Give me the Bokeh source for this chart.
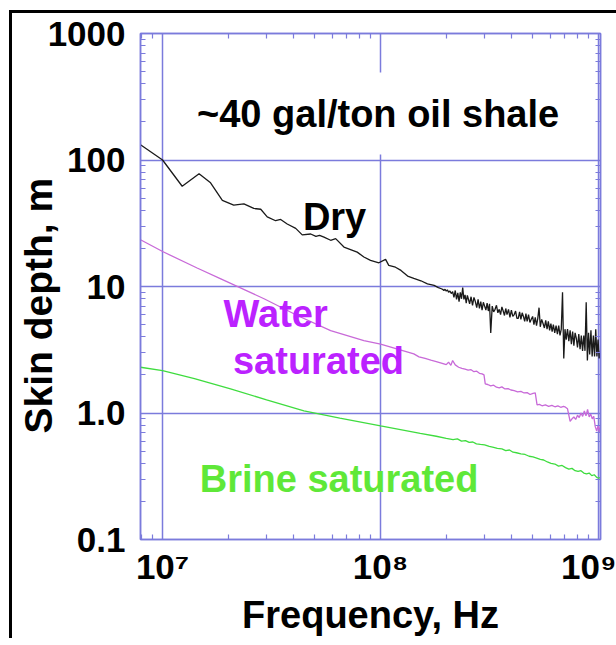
import numpy as np
from bokeh.plotting import figure
from bokeh.models import LogAxis, FixedTicker, Label, Range1d, Title
from bokeh.embed import file_html
from bokeh.resources import INLINE

try:
    from bokeh.models import GlobalInlineStyleSheet
except ImportError:
    GlobalInlineStyleSheet = None

# ---------------- data (frequency in MHz, skin depth in m) ----------------
DRY_F_MHZ = [7.92, 10, 12.3, 14.7, 16.6, 18.8, 21.2, 23.6, 26.2, 28.2,
             30.2, 33.0, 34.8, 37.3, 40.8, 43.7, 47.8, 50.5, 52.5, 55.0,
             59.0, 62.2, 67.9, 72.8, 78.1, 83.8, 89.9, 98.2, 105.4, 109,
             117, 124, 133, 142, 153, 164, 176, 184,
             190, 192.5, 195, 197.5, 200, 202.5, 205, 208, 211, 214,
             217, 220, 223, 226, 229, 232, 235, 238, 241, 244,
             247, 250, 253, 256, 260, 264, 268, 272, 276, 280,
             284, 288, 292, 296, 300, 304, 308, 312, 316, 320,
             325, 330, 335, 340, 345, 350, 355, 360, 365, 370,
             375, 380, 386, 392, 398, 404, 410, 416, 422, 428,
             434, 440, 446, 452, 458, 464, 470, 477, 484, 491,
             498, 505, 512, 519, 526, 533, 540, 548, 556, 564,
             572, 580, 588, 596, 604, 612, 620, 629, 638, 647,
             656, 665, 674, 683, 692, 701, 710, 720, 730, 740,
             750, 760, 770, 780, 790, 800, 811, 822, 833, 844,
             855, 866, 877, 888, 899, 910, 922, 934, 946, 958,
             970, 982, 994, 1006, 1020]
DRY_DEPTH_M = [132, 100, 62, 78, 66, 48, 44, 45, 41.4, 40.8,
               35.5, 33.1, 33.9, 31.2, 28.8, 25.6, 26.0, 24.9, 25.4, 24.6,
               23.2, 23.9, 20.5, 19.6, 18.7, 17.1, 16.1, 15.4, 16.4, 14.7,
               14.2, 13.4, 12.1, 11.6, 11.1, 10.5, 10.2, 9.8,
               9.6, 9.5, 9.3, 9.5, 9.2, 9.4, 9.0, 9.2, 8.8, 9.1,
               8.2, 9.3, 7.9, 8.9, 7.6, 9.0, 8.0, 9.8, 7.9, 8.6,
               7.4, 8.5, 7.9, 7.3, 8.3, 7.1, 8.2, 7.6, 6.8, 7.9,
               6.7, 7.6, 6.5, 7.5, 7.0, 6.5, 7.4, 6.4, 7.3, 4.3,
               7.0, 6.3, 6.6, 7.1, 6.2, 6.6, 6.0, 6.9, 6.4, 5.9,
               6.7, 6.0, 6.6, 5.7, 6.5, 5.8, 6.0, 6.4, 5.6, 5.6,
               6.3, 5.5, 6.2, 5.8, 5.3, 6.1, 5.3, 6.0, 5.2, 5.5,
               5.8, 5.0, 5.7, 4.9, 5.6, 6.8, 4.8, 5.5, 5.1, 4.7,
               5.4, 4.6, 5.3, 4.5, 5.1, 4.4, 5.0, 4.3, 4.9, 4.2,
               4.9, 4.1, 4.6, 9.0, 2.7, 4.6, 3.8, 4.6, 3.7, 4.5,
               3.5, 4.4, 3.4, 4.3, 3.9, 3.3, 4.2, 3.2, 4.1, 3.1,
               4.1, 3.1, 7.5, 2.6, 4.3, 2.9, 4.5, 2.8, 4.1, 2.8,
               4.6, 2.8, 3.8, 2.7, 3.1]

WATER_F_MHZ = [7.92, 10, 14.4, 18.5, 29.2, 41.5, 59, 83.8, 100, 142,
               150, 160, 170, 180, 190, 200, 205, 210, 214, 220,
               228, 236, 244, 252, 260, 268, 276, 284, 292, 298,
               302, 310, 320, 330, 340, 350, 360, 372, 384, 396,
               410, 425, 440, 455, 470, 485, 500, 512, 522, 535,
               550, 570, 590, 610, 630, 650, 670, 690, 700, 720,
               740, 755, 770, 785, 800, 815, 830, 845, 860, 875,
               890, 905, 920, 935, 950, 965, 980, 995, 1010, 1020]
WATER_DEPTH_M = [23.4, 18.9, 14.0, 11.5, 8.0, 5.9, 4.48, 3.74, 3.51, 2.93,
                 2.78, 2.70, 2.62, 2.55, 2.48, 2.41, 2.52, 2.38, 2.60, 2.40,
                 2.30, 2.25, 2.22, 2.18, 2.20, 2.12, 2.14, 2.06, 2.04, 2.00,
                 1.70, 1.68, 1.64, 1.66, 1.60, 1.58, 1.61, 1.55, 1.56, 1.52,
                 1.50, 1.47, 1.48, 1.44, 1.45, 1.40, 1.43, 1.44, 1.16, 1.17,
                 1.14, 1.16, 1.13, 1.15, 1.12, 1.14, 1.11, 1.13, 1.12, 1.08,
                 0.86, 0.90, 0.93, 0.89, 0.96, 0.92, 1.00, 0.94, 1.04, 0.95,
                 1.07, 0.93, 0.98, 0.90, 0.94, 0.78, 0.72, 0.80, 0.70, 0.80]

BRINE_F_MHZ = [7.92, 10, 14, 20.5, 30, 44.5, 65, 100, 152, 180,
               200, 215, 225, 235, 245, 255, 265, 275, 287, 300,
               315, 330, 343, 360, 375, 390, 405, 420, 440, 460,
               480, 500, 520, 540, 560, 582, 605, 630, 655, 680,
               705, 730, 755, 780, 805, 830, 855, 880, 905, 930,
               955, 980, 1000, 1020]
BRINE_DEPTH_M = [2.30, 2.16, 1.87, 1.55, 1.27, 1.04, 0.91, 0.79, 0.69, 0.655,
                 0.63, 0.615, 0.625, 0.60, 0.605, 0.585, 0.59, 0.57, 0.565, 0.56,
                 0.545, 0.535, 0.525, 0.52, 0.505, 0.51, 0.49, 0.485, 0.475, 0.47,
                 0.455, 0.45, 0.44, 0.43, 0.425, 0.41, 0.40, 0.395, 0.38, 0.385,
                 0.37, 0.36, 0.365, 0.35, 0.345, 0.35, 0.335, 0.33, 0.335, 0.32,
                 0.325, 0.31, 0.305, 0.31]

X_TICKS = [1e7, 1e8, 1e9]
X_TICK_LABELS = ["10\u2077", "10\u2078", "10\u2079"]
Y_TICKS = [0.1, 1, 10, 100, 1000]
Y_TICK_LABELS = ["0.1", "1.0", "10", "100", "1000"]

TITLE = "~40 gal/ton oil shale"
X_LABEL = "Frequency, Hz"
Y_LABEL = "Skin depth, m"

# ---------------- styling ----------------
FONT = "Liberation Sans"
GRID = "#7b7bdc"
x_minor = [m * 10 ** e for e in range(6, 9) for m in range(2, 10)]
y_minor = [m * 10 ** e for e in range(-1, 3) for m in range(2, 10)]

p = figure(width=616, height=638, x_axis_type="log", y_axis_type="log",
           x_range=Range1d(7.92e6, 1.02e9), y_range=Range1d(0.1, 1000),
           output_backend="svg", toolbar_location=None,
           min_border_left=140, min_border_right=16, min_border_top=33, min_border_bottom=96)
# black page border on the left and top (shown through the transparent border area)
p.styles = {"box-shadow": "inset 9px 10px 0px 0px white, inset 12px 13px 0px 0px black"}
if GlobalInlineStyleSheet is not None:
    p.stylesheets = [GlobalInlineStyleSheet(css="html, body { overflow: hidden; }")]
p.background_fill_color = "white"
p.border_fill_alpha = 0
p.outline_line_color = GRID
p.outline_line_width = 1.5

xt = FixedTicker(ticks=X_TICKS, minor_ticks=x_minor)
yt = FixedTicker(ticks=Y_TICKS, minor_ticks=y_minor)

def style_axis(ax, ticker, labels, show):
    ax.ticker = ticker
    ax.axis_line_color = GRID
    ax.axis_line_width = 1.5
    ax.major_tick_in = 0
    ax.major_tick_out = 0
    ax.minor_tick_in = 5
    ax.minor_tick_out = 0
    ax.minor_tick_line_color = GRID
    ax.minor_tick_line_width = 1.2
    ax.major_label_overrides = dict(zip(ticker.ticks, labels if show else [""] * len(labels)))
    ax.major_label_text_font = FONT
    ax.major_label_text_font_style = "bold"
    ax.major_label_text_color = "black"
    ax.major_label_text_font_size = "35px" if show else "0px"
    ax.axis_label_text_font = FONT
    ax.axis_label_text_font_style = "bold"
    ax.axis_label_text_color = "black"
    if not show:
        ax.major_label_standoff = 0

xa = p.xaxis[0]
ya = p.yaxis[0]
style_axis(xa, xt, X_TICK_LABELS, True)
style_axis(ya, yt, Y_TICK_LABELS, True)
xa.major_label_standoff = 7
ya.major_label_standoff = 15

xa.axis_label = X_LABEL
xa.axis_label_text_font_size = "38px"
xa.axis_label_standoff = 5

# y-axis title in the left panel, started from the bottom of the frame
ylab = Title(text=Y_LABEL, align="left", offset=106, standoff=-30,
             text_font=FONT, text_font_style="bold", text_font_size="39px", text_color="black")
p.add_layout(ylab, "left")

top_ax = LogAxis()
right_ax = LogAxis()
style_axis(top_ax, FixedTicker(ticks=X_TICKS, minor_ticks=x_minor), X_TICK_LABELS, False)
style_axis(right_ax, FixedTicker(ticks=Y_TICKS, minor_ticks=y_minor), Y_TICK_LABELS, False)
p.add_layout(top_ax, "above")
p.add_layout(right_ax, "right")

p.xgrid.ticker = xt
p.ygrid.ticker = yt
for g in (p.xgrid[0], p.ygrid[0]):
    g.grid_line_color = GRID
    g.grid_line_width = 1.5
    g.minor_grid_line_color = None

# ---------------- curves ----------------
p.line(np.array(BRINE_F_MHZ) * 1e6, BRINE_DEPTH_M, line_color="#3fdc3f", line_width=1.3)
p.line(np.array(WATER_F_MHZ) * 1e6, WATER_DEPTH_M, line_color="#c86ad8", line_width=1.3)
p.line(np.array(DRY_F_MHZ) * 1e6, DRY_DEPTH_M, line_color="#1a1a1a", line_width=1.3)

# ---------------- annotations ----------------
def lab(x, y, text, color="black", size="38px", **kw):
    l = Label(x=x, y=y, text=text, text_color=color, text_font=FONT, text_font_style="bold",
              text_font_size=size, text_align="center", text_baseline="alphabetic", **kw)
    p.add_layout(l)
    return l

lab(9.74e7, 233, TITLE, background_fill_color="white", padding=20)
lab(6.15e7, 35.4, "Dry")
lab(3.30e7, 6.07, "Water", color="#bb22ff")
lab(5.19e7, 2.59, "saturated", color="#bb22ff")
lab(6.45e7, 0.30, "Brine saturated", color="#5fe838")

open("out.html", "w").write(file_html(p, INLINE))
